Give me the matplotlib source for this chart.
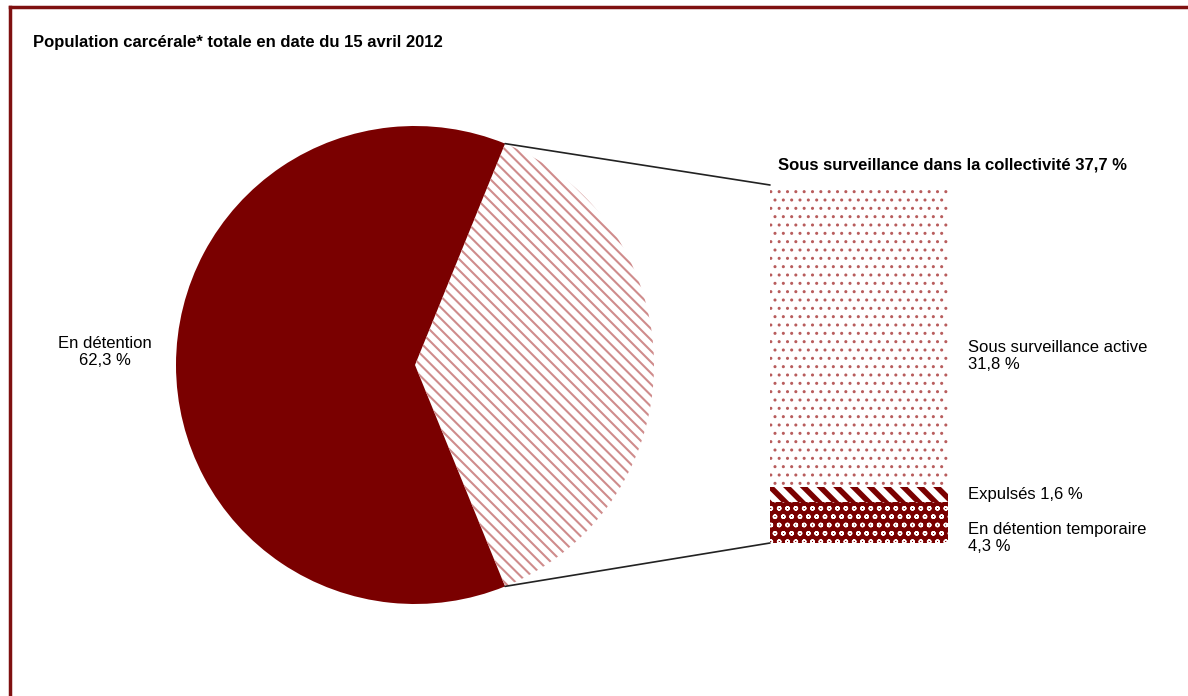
import matplotlib
matplotlib.use("Agg")
import matplotlib.pyplot as plt
import numpy as np
from matplotlib.patches import ConnectionPatch, Polygon
from matplotlib.lines import Line2D

# ----- styles -----
plt.rcParams['font.family'] = ['Liberation Sans', 'DejaVu Sans']
dark_red = '#7a0000'
W, H = 1188, 696

# ----- data -----
pie_labels = ['Sous surveillance dans la collectivité', 'En détention']
pie_values = [37.7, 62.3]
bar_labels = ['En détention temporaire', 'Expulsés', 'Sous surveillance active']
bar_values = [4.3, 1.6, 31.8]

fig = plt.figure(figsize=(W / 100, H / 100), dpi=100)

# ----- pie -----
cx, cy, r = 415, 365, 239
ax_pie = fig.add_axes([(cx - r) / W, (H - cy - r) / H, 2 * r / W, 2 * r / H])
start = -pie_values[0] / 100 * 360 / 2
wedges, _ = ax_pie.pie(pie_values, startangle=start, counterclock=True,
                       colors=['white', dark_red], wedgeprops=dict(linewidth=0))
# hatched overlay for the first wedge (polygon avoids clipping glitches)
t = np.deg2rad(np.linspace(wedges[0].theta1, wedges[0].theta2, 200))
verts = np.vstack([[0, 0], np.column_stack([np.cos(t), np.sin(t)])])
with plt.rc_context({'hatch.linewidth': 1.5}):
    ax_pie.add_patch(Polygon(verts, closed=True, facecolor='none',
                             edgecolor='#cf8c8c', hatch='\\\\\\', linewidth=0))
ax_pie.set_xlim(-1, 1)
ax_pie.set_ylim(-1, 1)
ax_pie.set_aspect('equal')
ax_pie.axis('off')

# ----- stacked bar -----
bx0, bx1, by0, by1 = 770, 948, 185, 543
ax_bar = fig.add_axes([bx0 / W, (H - by1) / H, (bx1 - bx0) / W, (by1 - by0) / H])
styles = [
    (dict(color=dark_red, edgecolor='white', hatch='oo'), 1.0),
    (dict(color='white', edgecolor=dark_red, hatch='\\\\'), 4.0),
    (dict(color='white', edgecolor='#b85c5c', hatch='..'), 1.0),
]
bottom = 0
for val, (st, hlw) in zip(bar_values, styles):
    with plt.rc_context({'hatch.linewidth': hlw}):
        ax_bar.bar(0, val, width=1, bottom=bottom, linewidth=0, **st)
    bottom += val
ax_bar.set_xlim(-0.5, 0.5)
ax_bar.set_ylim(0, sum(bar_values))
ax_bar.axis('off')

# ----- connection lines -----
theta1 = np.deg2rad(wedges[0].theta1)
theta2 = np.deg2rad(wedges[0].theta2)
for theta, ybar in [(theta2, sum(bar_values)), (theta1, 0)]:
    con = ConnectionPatch(xyA=(np.cos(theta), np.sin(theta)), coordsA=ax_pie.transData,
                          xyB=(-0.5, ybar), coordsB=ax_bar.transData,
                          color='#222222', linewidth=1.2)
    fig.add_artist(con)

# ----- texts -----
def ftext(x, y, s, **kw):
    fig.text(x / W, 1 - y / H, s, fontsize=12, **kw)

ftext(33, 42, 'Population carcérale* totale en date du 15 avril 2012',
      fontweight='bold', va='center', ha='left')
ftext(105, 352, 'En détention\n{} %'.format(str(pie_values[1]).replace('.', ',')),
      ha='center', va='center', linespacing=1.15)
ftext(778, 165, 'Sous surveillance dans la collectivité {} %'.format(
    str(pie_values[0]).replace('.', ',')), fontweight='bold', va='center', ha='left')
ftext(968, 356, 'Sous surveillance active\n{} %'.format(str(bar_values[2]).replace('.', ',')),
      ha='left', va='center', linespacing=1.15)
ftext(968, 495, 'Expulsés {} %'.format(str(bar_values[1]).replace('.', ',')),
      ha='left', va='center')
ftext(968, 538, 'En détention temporaire\n{} %'.format(str(bar_values[0]).replace('.', ',')),
      ha='left', va='center', linespacing=1.15)

# ----- frame -----
fig.add_artist(Line2D([10 / W, 1], [1 - 7 / H, 1 - 7 / H], color='#7f1010', linewidth=2.5))
fig.add_artist(Line2D([10 / W, 10 / W], [0, 1 - 7 / H], color='#7f1010', linewidth=2.5))

fig.savefig('out.png', dpi=100)
